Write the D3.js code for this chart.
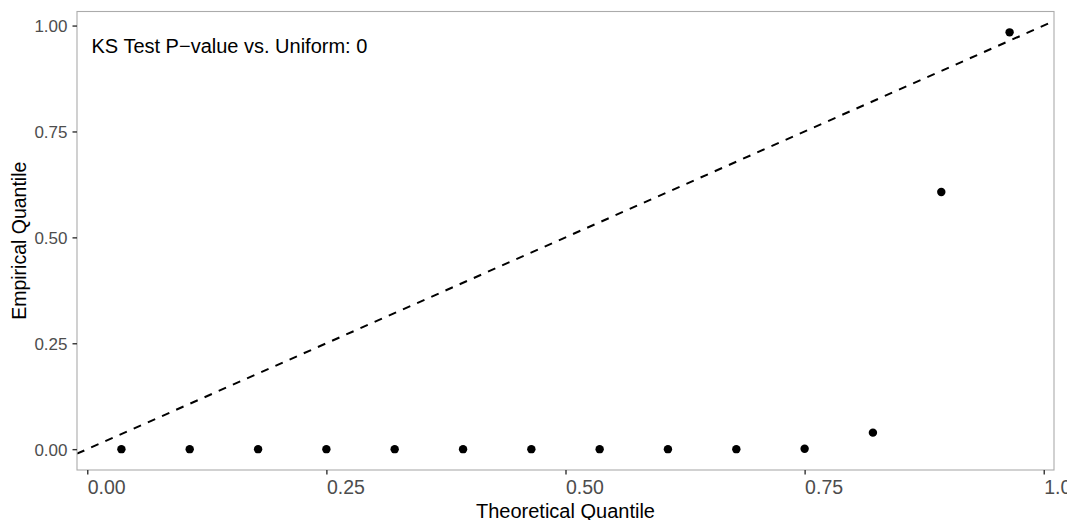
<!DOCTYPE html>
<html>
<head>
<meta charset="utf-8">
<script src="https://cdn.jsdelivr.net/npm/d3@7"></script>
<style>
  body { margin: 0; background: #fff; }
  svg { display: block; font-family: "Liberation Sans", Arial, sans-serif; }
</style>
</head>
<body>
<svg id="chart"></svg>
<script>
const width = 1067;
const height = 520;

// panel box
const panel = { left: 77, right: 1054, top: 11.5, bottom: 470 };

const theoretical = [0.0357, 0.1071, 0.1786, 0.2500, 0.3214, 0.3929, 0.4643,
                     0.5357, 0.6071, 0.6786, 0.7500, 0.8214, 0.8929, 0.9643];
const empirical = [0, 0, 0, 0, 0, 0, 0, 0, 0, 0, 0.001, 0.039, 0.607, 0.984];
const xTicks = [0, 0.25, 0.5, 0.75, 1];
const yTicks = [0, 0.25, 0.5, 0.75, 1];
const ksLabel = "KS Test P\u2212value vs. Uniform: 0";

const data = theoretical.map((t, i) => ({ x: t, y: empirical[i] }));

// ggplot style 5% expansion
function expand(ext) {
    const pad = (ext[1] - ext[0]) * 0.05;
    return [ext[0] - pad, ext[1] + pad];
}

const xScale = d3.scaleLinear()
    .domain(expand(d3.extent(theoretical)))
    .range([panel.left, panel.right]);

const yScale = d3.scaleLinear()
    .domain(expand(d3.extent(empirical)))
    .range([panel.bottom, panel.top]);

const svg = d3.select("#chart")
    .attr("width", width)
    .attr("height", height);

svg.append("clipPath")
    .attr("id", "clip")
    .append("rect")
    .attr("x", panel.left)
    .attr("y", panel.top)
    .attr("width", panel.right - panel.left)
    .attr("height", panel.bottom - panel.top);

// reference line y = x
const [x0, x1] = xScale.domain();
svg.append("line")
    .attr("clip-path", "url(#clip)")
    .attr("x1", xScale(x0))
    .attr("y1", yScale(x0))
    .attr("x2", xScale(x1))
    .attr("y2", yScale(x1))
    .attr("stroke", "#000")
    .attr("stroke-width", 2)
    .attr("stroke-dasharray", "8,7.5");

svg.selectAll(".dot")
    .data(data)
    .enter()
    .append("circle")
    .attr("class", "dot")
    .attr("cx", d => xScale(d.x))
    .attr("cy", d => yScale(d.y))
    .attr("r", 4.2)
    .attr("fill", "#000");

// panel border
svg.append("rect")
    .attr("x", panel.left)
    .attr("y", panel.top)
    .attr("width", panel.right - panel.left)
    .attr("height", panel.bottom - panel.top)
    .attr("fill", "none")
    .attr("stroke", "#ababab")
    .attr("stroke-width", 1.1);

// axes
const xAxis = d3.axisBottom(xScale)
    .tickValues(xTicks)
    .tickFormat(d3.format(".2f"))
    .tickSize(4.5)
    .tickPadding(6);

const gx = svg.append("g")
    .attr("transform", `translate(0, ${panel.bottom})`)
    .call(xAxis);
gx.select(".domain").remove();
gx.selectAll(".tick line").attr("stroke", "#333").attr("stroke-width", 1.4);
gx.selectAll(".tick text")
    .attr("text-anchor", "start")
    .attr("fill", "#4d4d4d")
    .attr("font-size", 19.5)
    .attr("dy", "0.71em");

const yAxis = d3.axisLeft(yScale)
    .tickValues(yTicks)
    .tickFormat(d3.format(".2f"))
    .tickSize(4.5)
    .tickPadding(5);

const gy = svg.append("g")
    .attr("transform", `translate(${panel.left}, 0)`)
    .call(yAxis);
gy.select(".domain").remove();
gy.selectAll(".tick line").attr("stroke", "#333").attr("stroke-width", 1.4);
gy.selectAll(".tick text")
    .attr("fill", "#4d4d4d")
    .attr("font-size", 17)
    .attr("dy", "0.35em");

// titles
svg.append("text")
    .attr("x", (panel.left + panel.right) / 2)
    .attr("y", 518)
    .attr("text-anchor", "middle")
    .attr("font-size", 20)
    .attr("fill", "#000")
    .text("Theoretical Quantile");

svg.append("text")
    .attr("transform", `translate(26, ${(panel.top + panel.bottom) / 2}) rotate(-90)`)
    .attr("text-anchor", "middle")
    .attr("font-size", 19.5)
    .attr("fill", "#000")
    .text("Empirical Quantile");

svg.append("text")
    .attr("x", 91.5)
    .attr("y", 52.5)
    .attr("font-size", 20)
    .attr("fill", "#000")
    .text(ksLabel);
</script>
</body>
</html>
